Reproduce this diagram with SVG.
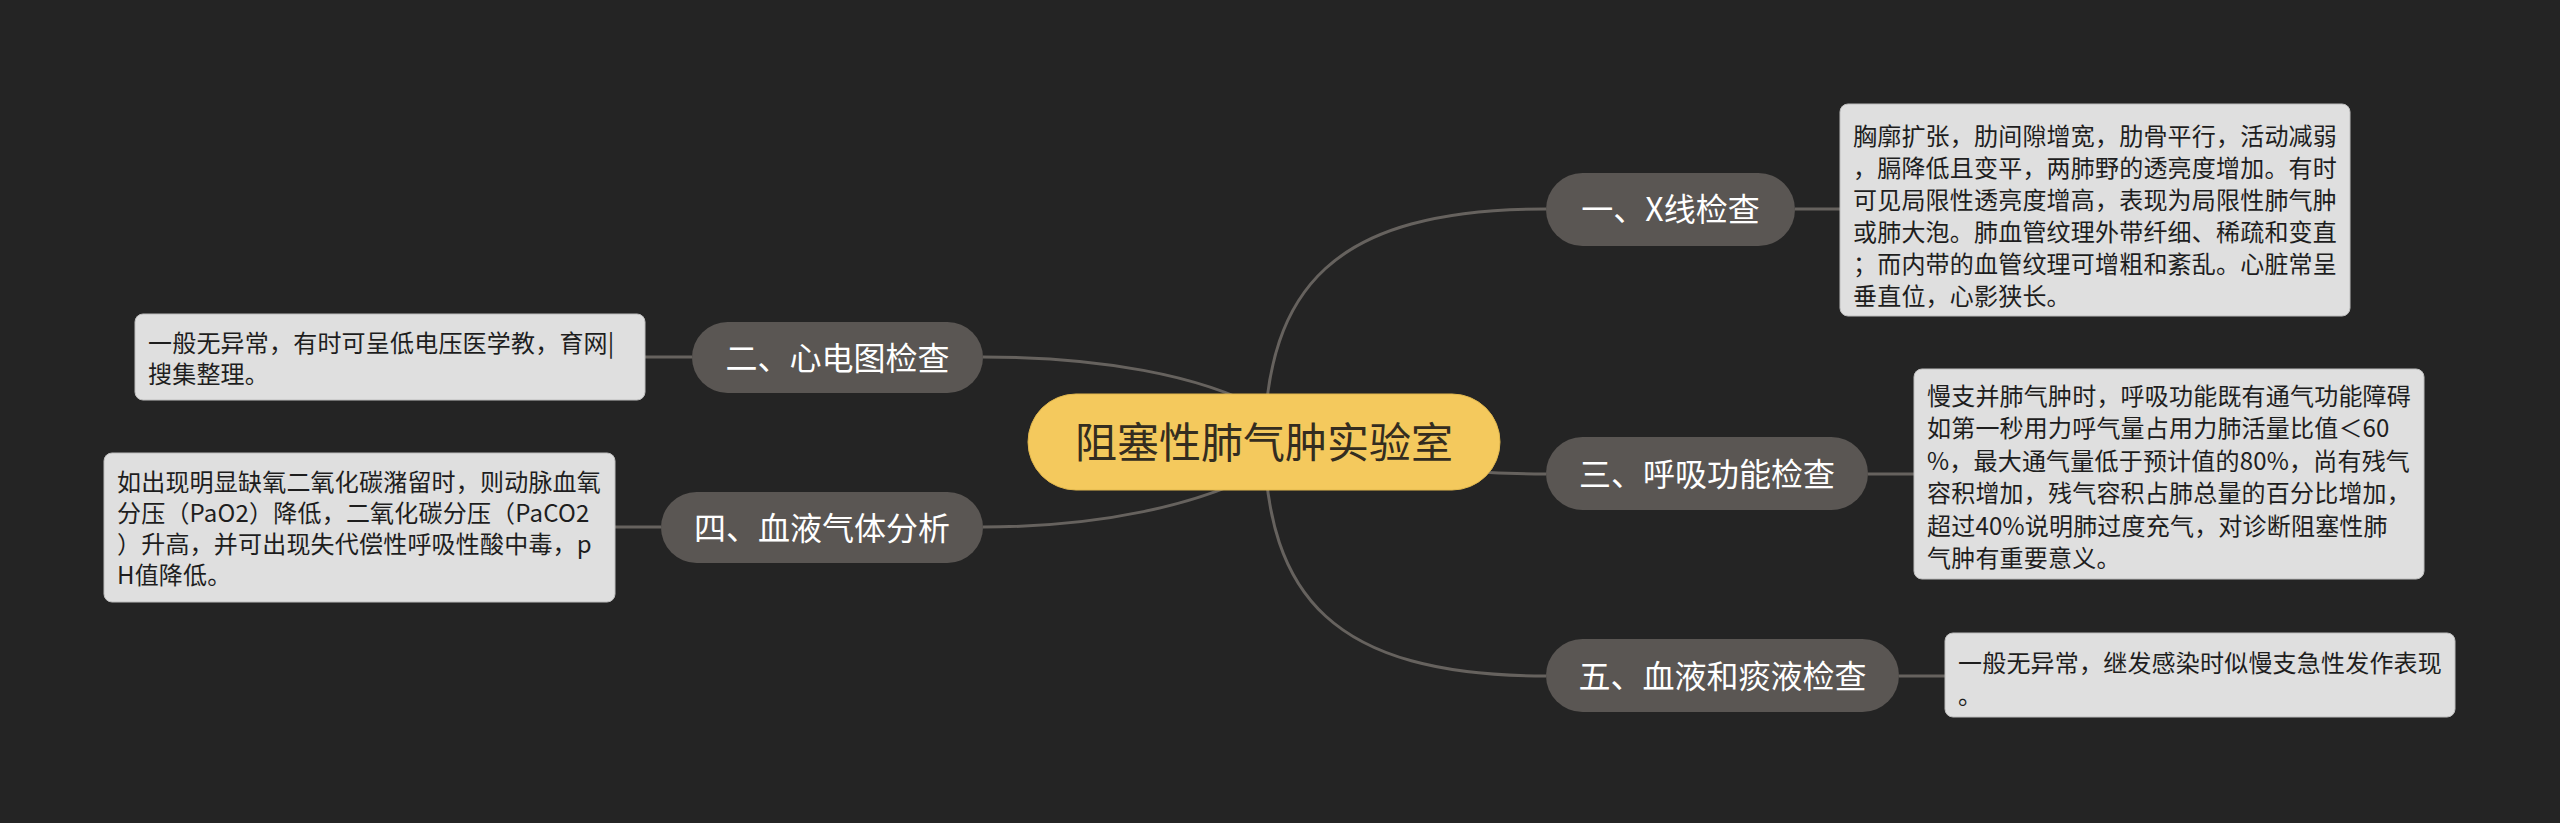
<svg xmlns="http://www.w3.org/2000/svg" width="2560" height="823" viewBox="0 0 2560 823">
<style>
.bg{fill:#242424}
.link{fill:none;stroke:#66625e;stroke-width:3}
.root rect{fill:#f4c95d;stroke:#e2b84e;stroke-width:1}
.root text{font-family:"Noto Sans CJK SC","Noto Sans",sans-serif;font-size:42px;fill:#342d20;text-anchor:middle}
.topic rect{fill:#5a5653}
.topic text{font-family:"Noto Sans CJK SC","Noto Sans",sans-serif;font-size:32px;fill:#ffffff;text-anchor:middle}
.note rect{fill:#dfdfdf;stroke:#bdbdbd;stroke-width:1}
.note text{font-family:"Noto Sans CJK SC","Noto Sans",sans-serif;font-size:24px;fill:#1e1e1e;letter-spacing:0.2px}
</style>
<rect class="bg" x="0" y="0" width="2560" height="823"/>
<g id="connectors">
<path class="link" d="M 1264 442 C 1268 290, 1330 209, 1546 209"/>
<path class="link" d="M 1264 442 C 1330 442, 1380 474, 1546 474"/>
<path class="link" d="M 1264 442 C 1268 594, 1330 676, 1546 676"/>
<path class="link" d="M 983 357 C 1100 357, 1200 375, 1264 410"/>
<path class="link" d="M 983 527 C 1100 527, 1200 505, 1264 470"/>
<path class="link" d="M 1795 209 H 1840"/>
<path class="link" d="M 1868 474 H 1914"/>
<path class="link" d="M 1899 676 H 1945"/>
<path class="link" d="M 645 357 H 692"/>
<path class="link" d="M 615 527 H 661"/>
</g>
<g id="root" class="root">
<rect x="1028" y="394" width="472" height="96" rx="48"/>
<text x="1264" y="458">阻塞性肺气肿实验室</text>
</g>
<g id="topic1" class="topic">
<rect x="1546" y="173" width="249" height="73" rx="36.5"/>
<text x="1670.5" y="221">一、X线检查</text>
</g>
<g id="topic3" class="topic">
<rect x="1546" y="437" width="322" height="73" rx="36.5"/>
<text x="1707" y="485.5">三、呼吸功能检查</text>
</g>
<g id="topic5" class="topic">
<rect x="1546" y="639" width="353" height="73" rx="36.5"/>
<text x="1722.5" y="687.5">五、血液和痰液检查</text>
</g>
<g id="topic2" class="topic">
<rect x="692" y="322" width="291" height="71" rx="35.5"/>
<text x="837.5" y="369.5">二、心电图检查</text>
</g>
<g id="topic4" class="topic">
<rect x="661" y="492" width="322" height="71" rx="35.5"/>
<text x="822" y="539.5">四、血液气体分析</text>
</g>
<g id="note1" class="note">
<rect x="1840" y="104" width="510" height="212" rx="8"/>
<text x="1853" y="145">胸廓扩张，肋间隙增宽，肋骨平行，活动减弱</text>
<text x="1853" y="177">，膈降低且变平，两肺野的透亮度增加。有时</text>
<text x="1853" y="209">可见局限性透亮度增高，表现为局限性肺气肿</text>
<text x="1853" y="241">或肺大泡。肺血管纹理外带纤细、稀疏和变直</text>
<text x="1853" y="273">；而内带的血管纹理可增粗和紊乱。心脏常呈</text>
<text x="1853" y="305">垂直位，心影狭长。</text>
</g>
<g id="note3" class="note">
<rect x="1914" y="369" width="510" height="210" rx="8"/>
<text x="1927" y="405">慢支并肺气肿时，呼吸功能既有通气功能障碍</text>
<text x="1927" y="437.4">如第一秒用力呼气量占用力肺活量比值＜60</text>
<text x="1927" y="469.8">%，最大通气量低于预计值的80%，尚有残气</text>
<text x="1927" y="502.2">容积增加，残气容积占肺总量的百分比增加，</text>
<text x="1927" y="534.6">超过40%说明肺过度充气，对诊断阻塞性肺</text>
<text x="1927" y="567">气肿有重要意义。</text>
</g>
<g id="note5" class="note">
<rect x="1945" y="633" width="510" height="84" rx="8"/>
<text x="1958" y="672">一般无异常，继发感染时似慢支急性发作表现</text>
<text x="1958" y="704">。</text>
</g>
<g id="note2" class="note">
<rect x="135" y="314" width="510" height="86" rx="8"/>
<text x="148" y="352">一般无异常，有时可呈低电压医学教，育网|</text>
<text x="148" y="383">搜集整理。</text>
</g>
<g id="note4" class="note">
<rect x="104" y="453" width="511" height="149" rx="8"/>
<text x="117" y="491">如出现明显缺氧二氧化碳潴留时，则动脉血氧</text>
<text x="117" y="522">分压（PaO2）降低，二氧化碳分压（PaCO2</text>
<text x="117" y="553">）升高，并可出现失代偿性呼吸性酸中毒，p</text>
<text x="117" y="584">H值降低。</text>
</g>
</svg>
